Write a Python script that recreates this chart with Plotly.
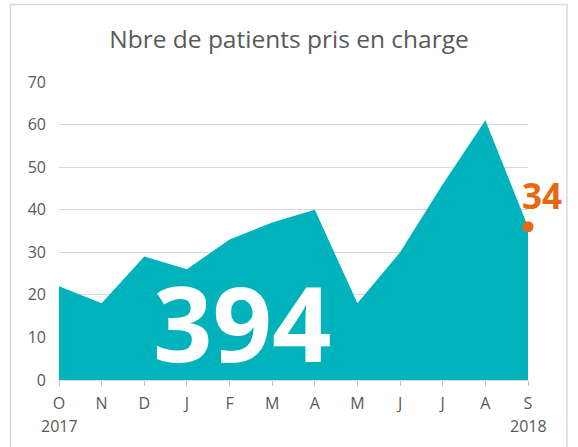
import plotly.graph_objects as go

months = ["O", "N", "D", "J", "F", "M", "A", "M", "J", "J", "A", "S"]
patients = [22, 18, 29, 26, 33, 37, 40, 18, 30, 46, 61, 36]
year_labels = ["2017", "2018"]
total_label = "394"
last_label = "34"
y_ticks = [0, 10, 20, 30, 40, 50, 60, 70]

TEAL = "#00B2BB"
ORANGE = "#E8680F"
GRAY = "#595959"
FONT = "Open Sans"

x_idx = list(range(len(months)))

fig = go.Figure()
fig.add_trace(go.Scatter(
    x=x_idx, y=patients, mode="lines", fill="tozeroy",
    fillcolor=TEAL, line=dict(width=0, color=TEAL), hoverinfo="skip",
    showlegend=False,
))
fig.add_trace(go.Scatter(
    x=[x_idx[-1]], y=[patients[-1]], mode="markers",
    marker=dict(color=ORANGE, size=11), showlegend=False, cliponaxis=False,
))

W, H = 578, 447
L, R, T, B = 59, 50, 82, 67
pw, ph = W - L - R, H - T - B

def px_x(p):
    return (p - L) / pw

def px_y(p):
    return (H - B - p) / ph

fig.update_layout(
    width=W, height=H,
    margin=dict(l=L, r=R, t=T, b=B),
    paper_bgcolor="white", plot_bgcolor="white",
    font=dict(family=FONT, color=GRAY, size=16),
    title=dict(text="Nbre de patients pris en charge", x=(289 / W), xref="container",
               y=1 - 39 / H, yanchor="middle", xanchor="center",
               font=dict(size=24.5, color=GRAY, family=FONT)),
    xaxis=dict(
        range=[0, len(months) - 1], tickmode="array", tickvals=x_idx, ticktext=months,
        showgrid=False, zeroline=False, showline=True, linecolor="#D9D9D9", linewidth=1,
        ticks="outside", ticklen=5, tickcolor="#BFBFBF", ticklabelstandoff=4,
        tickfont=dict(size=16, color=GRAY),
    ),
    yaxis=dict(
        range=[0, 70], tickmode="array", tickvals=y_ticks,
        showgrid=True, gridcolor="#D9D9D9", gridwidth=1, zeroline=False,
        showline=False, ticks="", ticklabelstandoff=12,
        tickfont=dict(size=16, color=GRAY),
    ),
    shapes=[dict(
        type="rect", xref="paper", yref="paper",
        x0=px_x(10.5), x1=px_x(567), y0=px_y(470), y1=px_y(4.5),
        line=dict(color="#D9D9D9", width=1.5), fillcolor="rgba(0,0,0,0)", layer="below",
    )],
    annotations=[
        dict(text=year_labels[0], x=x_idx[0], y=px_y(426), xref="x", yref="paper",
             showarrow=False, font=dict(size=16, color=GRAY), xanchor="center", yanchor="middle"),
        dict(text=year_labels[1], x=x_idx[-1], y=px_y(426), xref="x", yref="paper",
             showarrow=False, font=dict(size=16, color=GRAY), xanchor="center", yanchor="middle"),
        dict(text="<b>" + total_label + "</b>", x=px_x(242), y=px_y(321), xref="paper", yref="paper",
             showarrow=False, font=dict(size=104, color="white", family=FONT),
             xanchor="center", yanchor="middle"),
        dict(text="<b>" + last_label + "</b>", x=x_idx[-1], y=patients[-1], xref="x", yref="y",
             xshift=14, yshift=31, showarrow=False,
             font=dict(size=35, color=ORANGE, family=FONT), xanchor="center", yanchor="middle"),
    ],
)

fig.write_html("out.html", config={"displayModeBar": False},
               post_script="document.body.style.margin='0';")
